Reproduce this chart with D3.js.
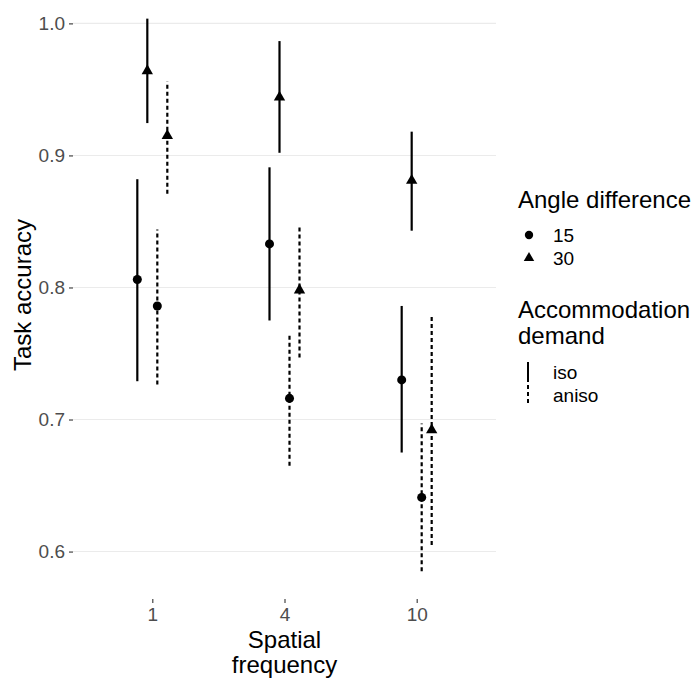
<!DOCTYPE html>
<html>
<head>
<meta charset="utf-8">
<script src="https://cdn.jsdelivr.net/npm/d3@7/dist/d3.min.js"></script>
<style>
    body { margin: 0; background: #fff; }
    svg text { font-family: "Liberation Sans", Arial, sans-serif; }
</style>
</head>
<body>
<svg id="chart" width="694" height="678"></svg>
<script>
    // categories
    var frequencies = ["1", "4", "10"];
    var angles = ["15", "30"];
    var demands = ["iso", "aniso"];
    var yTicks = [0.6, 0.7, 0.8, 0.9, 1.0];

    // series values (mean, lower, upper) per spatial frequency
    var meanIso15 = [0.806, 0.833, 0.730];
    var lowIso15 = [0.729, 0.775, 0.675];
    var highIso15 = [0.882, 0.891, 0.786];

    var meanIso30 = [0.964, 0.944, 0.881];
    var lowIso30 = [0.9245, 0.902, 0.843];
    var highIso30 = [1.0036, 0.9866, 0.918];

    var meanAniso15 = [0.786, 0.716, 0.641];
    var lowAniso15 = [0.7265, 0.665, 0.585];
    var highAniso15 = [0.844, 0.765, 0.697];

    var meanAniso30 = [0.915, 0.798, 0.692];
    var lowAniso30 = [0.871, 0.747, 0.605];
    var highAniso30 = [0.956, 0.8465, 0.778];

    var series = [
        {demand: "iso", angle: "15", mean: meanIso15, lo: lowIso15, hi: highIso15},
        {demand: "iso", angle: "30", mean: meanIso30, lo: lowIso30, hi: highIso30},
        {demand: "aniso", angle: "15", mean: meanAniso15, lo: lowAniso15, hi: highAniso15},
        {demand: "aniso", angle: "30", mean: meanAniso30, lo: lowAniso30, hi: highAniso30}
    ];

    var data = [];
    series.forEach(function(s) {
        frequencies.forEach(function(f, i) {
            data.push({freq: f, demand: s.demand, angle: s.angle,
                key: s.demand + "-" + s.angle,
                mean: s.mean[i], lo: s.lo[i], hi: s.hi[i]});
        });
    });

    var svg = d3.select("#chart"),
        panel = {left: 73, right: 496, top: -9, bottom: 599};

    var textGrey = "#4D4D4D";
    var titleSize = "24px", labelSize = "19px";

    var x = d3.scalePoint()
        .domain(frequencies)
        .range([panel.left, panel.right])
        .padding(0.6);

    var dodge = d3.scalePoint()
        .domain(series.map(function(s) { return s.demand + "-" + s.angle; }))
        .range([-15, 15]);

    // ggplot-like 5% expansion of the data range
    var yMin = d3.min(data, function(d) { return d.lo; }),
        yMax = d3.max(data, function(d) { return d.hi; }),
        pad = (yMax - yMin) * 0.05;

    var y = d3.scaleLinear()
        .domain([yMin - pad, yMax + pad])
        .range([panel.bottom, panel.top]);

    var shape = d3.scaleOrdinal()
        .domain(angles)
        .range([d3.symbolCircle, d3.symbolTriangle]);
    var shapeSize = d3.scaleOrdinal().domain(angles).range([64, 56]);

    var dash = d3.scaleOrdinal().domain(demands).range([null, "4,3"]);

    // gridlines
    svg.append("g")
        .selectAll("line")
        .data(yTicks)
        .join("line")
        .attr("x1", panel.left)
        .attr("x2", panel.right)
        .attr("y1", function(d) { return y(d); })
        .attr("y2", function(d) { return y(d); })
        .attr("stroke", "#EBEBEB")
        .attr("stroke-width", 1.1);

    // y axis
    var yAxis = svg.append("g")
        .attr("transform", "translate(" + panel.left + ",0)")
        .call(d3.axisLeft(y).tickValues(yTicks).tickFormat(d3.format(".1f")).tickSize(4).tickPadding(4));
    yAxis.select(".domain").remove();
    yAxis.selectAll(".tick line").attr("stroke", "#333333").attr("stroke-width", 1.1);
    yAxis.selectAll(".tick text")
        .attr("fill", textGrey)
        .style("font-size", labelSize);

    // x axis
    var xAxis = svg.append("g")
        .attr("transform", "translate(0," + panel.bottom + ")")
        .call(d3.axisBottom(x).tickSize(4).tickPadding(5));
    xAxis.select(".domain").remove();
    xAxis.selectAll(".tick line").attr("stroke", "#333333").attr("stroke-width", 1.1);
    xAxis.selectAll(".tick text")
        .attr("fill", textGrey)
        .style("font-size", labelSize);

    // axis titles
    svg.append("text")
        .attr("y", 648)
        .attr("text-anchor", "middle")
        .style("font-size", titleSize)
        .selectAll("tspan")
        .data(["Spatial", "frequency"])
        .join("tspan")
        .attr("x", (panel.left + panel.right) / 2)
        .attr("dy", function(d, i) { return i ? 25 : 0; })
        .text(function(d) { return d; });

    svg.append("text")
        .attr("transform", "translate(31," + (panel.top + panel.bottom) / 2 + ") rotate(-90)")
        .attr("text-anchor", "middle")
        .style("font-size", titleSize)
        .text("Task accuracy");

    // error bars
    svg.append("g")
        .selectAll("line")
        .data(data)
        .join("line")
        .attr("x1", function(d) { return x(d.freq) + dodge(d.key); })
        .attr("x2", function(d) { return x(d.freq) + dodge(d.key); })
        .attr("y1", function(d) { return y(d.lo); })
        .attr("y2", function(d) { return y(d.hi); })
        .attr("stroke", "#000")
        .attr("stroke-width", 2.2)
        .attr("stroke-dasharray", function(d) { return dash(d.demand); });

    // points
    svg.append("g")
        .selectAll("path")
        .data(data)
        .join("path")
        .attr("transform", function(d) {
            return "translate(" + (x(d.freq) + dodge(d.key)) + "," + y(d.mean) + ")";
        })
        .attr("d", function(d) { return d3.symbol(shape(d.angle), shapeSize(d.angle))(); })
        .attr("fill", "#000");

    // legends
    var legend = svg.append("g").attr("transform", "translate(518,0)");

    legend.append("text")
        .attr("y", 208)
        .style("font-size", titleSize)
        .text("Angle difference");

    var angleItems = legend.selectAll(".angle-item")
        .data(angles)
        .join("g")
        .attr("class", "angle-item")
        .attr("transform", function(d, i) { return "translate(0," + (235 + i * 23) + ")"; });
    angleItems.append("path")
        .attr("transform", "translate(11,0)")
        .attr("d", function(d) { return d3.symbol(shape(d), shapeSize(d) * 0.85)(); })
        .attr("fill", "#000");
    angleItems.append("text")
        .attr("x", 35)
        .attr("dy", "0.35em")
        .style("font-size", labelSize)
        .text(function(d) { return d; });

    legend.append("text")
        .style("font-size", titleSize)
        .selectAll("tspan")
        .data(["Accommodation", "demand"])
        .join("tspan")
        .attr("x", 0)
        .attr("y", function(d, i) { return 318 + i * 26; })
        .text(function(d) { return d; });

    var demandItems = legend.selectAll(".demand-item")
        .data(demands)
        .join("g")
        .attr("class", "demand-item")
        .attr("transform", function(d, i) { return "translate(0," + (372 + i * 23) + ")"; });
    demandItems.append("line")
        .attr("x1", 10)
        .attr("x2", 10)
        .attr("y1", -10)
        .attr("y2", 10)
        .attr("stroke", "#000")
        .attr("stroke-width", 2)
        .attr("stroke-dasharray", function(d) { return dash(d); });
    demandItems.append("text")
        .attr("x", 35)
        .attr("dy", "0.35em")
        .style("font-size", labelSize)
        .text(function(d) { return d; });
</script>
</body>
</html>
